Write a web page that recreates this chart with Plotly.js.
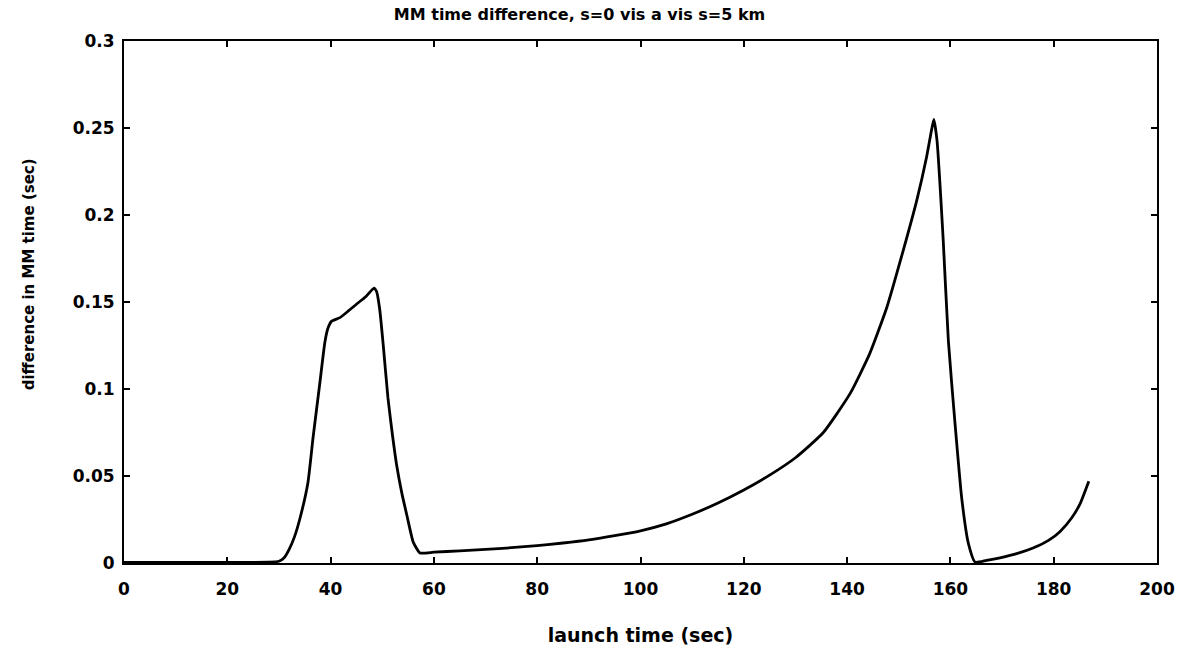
<!DOCTYPE html>
<html>
<head>
<meta charset="utf-8">
<script src="https://cdn.plot.ly/plotly-3.0.1.min.js"></script>
<style>html,body{margin:0;padding:0;background:#fff;}#chart{width:1188px;height:651px;}</style>
</head>
<body>
<div id="chart"></div>
<script>
// launch time (sec)
var launchTime = [0, 5, 10, 15, 20, 25, 28, 30, 31, 32, 33, 34.1, 35.6, 36.6, 37.9, 38.9, 39.5, 40.2, 41.8, 43.5, 45.1, 46.8, 48.4,
  48.9, 49.5, 50.2, 51.1, 52.0, 52.8, 53.8, 54.8, 56.0, 57.3, 60, 65, 70, 75, 80, 85, 90, 95, 100, 105, 110, 115, 120,
  125, 130, 135.4, 140.6, 144.4, 147.7, 150.9, 153.5, 155.4, 156.3, 156.8, 157.4, 158.6, 159.6, 160.9, 162.2,
  163.5, 164.8, 167, 169.6, 173, 176, 179, 181.2, 183.5, 185.1, 186.8];
// difference in MM time (sec)
var mmDiff = [0.0004, 0.0004, 0.0004, 0.0004, 0.0004, 0.0004, 0.0005, 0.001, 0.003, 0.008, 0.015, 0.026, 0.046, 0.072, 0.103,
  0.127, 0.135, 0.139, 0.141, 0.145, 0.149, 0.153, 0.158,
  0.156, 0.146, 0.125, 0.095, 0.073, 0.056, 0.040, 0.027, 0.012, 0.0058, 0.0062, 0.0070, 0.0078, 0.0088, 0.0100, 0.0115,
  0.0133, 0.0157, 0.0185, 0.0225, 0.0280, 0.0345, 0.0420, 0.0505, 0.0605, 0.0750, 0.0975, 0.1205, 0.147, 0.180,
  0.2086, 0.2335, 0.248, 0.255, 0.243, 0.186, 0.128, 0.080, 0.037, 0.011, 0.0005, 0.0015, 0.003, 0.0055, 0.0086, 0.013,
  0.018, 0.026, 0.034, 0.047];

var xTicks = [0, 20, 40, 60, 80, 100, 120, 140, 160, 180, 200];
var yTicks = [0, 0.05, 0.1, 0.15, 0.2, 0.25, 0.3];
var yTickText = ['0', '0.05', '0.1', '0.15', '0.2', '0.25', '0.3'];

var FONT = 'DejaVu Sans, sans-serif';

var trace = {
  x: launchTime, y: mmDiff, type: 'scatter', mode: 'lines',
  line: {color: '#000', width: 2.8, shape: 'spline', smoothing: 0.5},
  hoverinfo: 'x+y'
};

var layout = {
  width: 1188, height: 651,
  margin: {l: 124, r: 31, t: 41, b: 88},
  paper_bgcolor: '#fff', plot_bgcolor: '#fff',
  showlegend: false,
  font: {family: FONT, color: '#000'},
  title: {text: '<b>MM time difference, s=0 vis a vis s=5 km</b>', font: {family: FONT, size: 16, color: '#000'},
    x: 0.441, xref: 'paper', xanchor: 'center', y: 0.978, yanchor: 'middle'},
  xaxis: {
    range: [0, 200], tickvals: xTicks, ticktext: xTicks.map(String),
    ticks: 'inside', ticklen: 6, tickwidth: 2, tickcolor: '#000',
    showline: true, linecolor: '#000', linewidth: 2, mirror: 'ticks',
    showgrid: false, zeroline: false,
    tickfont: {family: FONT, size: 17, color: '#000', weight: 'bold'},
    ticklabelstandoff: 10,
    title: {text: '<b>launch time (sec)</b>', font: {family: FONT, size: 19, color: '#000'}, standoff: 30}
  },
  yaxis: {
    range: [0, 0.3], tickvals: yTicks, ticktext: yTickText,
    ticks: 'inside', ticklen: 6, tickwidth: 2, tickcolor: '#000',
    showline: true, linecolor: '#000', linewidth: 2, mirror: 'ticks',
    showgrid: false, zeroline: false,
    tickfont: {family: FONT, size: 17, color: '#000', weight: 'bold'},
    ticklabelstandoff: 4
  },
  annotations: [{
    text: '<b>difference in MM time (sec)</b>', textangle: -90,
    xref: 'paper', yref: 'paper', x: -0.092, y: 0.553, xanchor: 'center', yanchor: 'middle',
    showarrow: false, font: {family: FONT, size: 15, color: '#000'}
  }]
};

Plotly.newPlot('chart', [trace], layout, {staticPlot: true, displayModeBar: false});
</script>
</body>
</html>
